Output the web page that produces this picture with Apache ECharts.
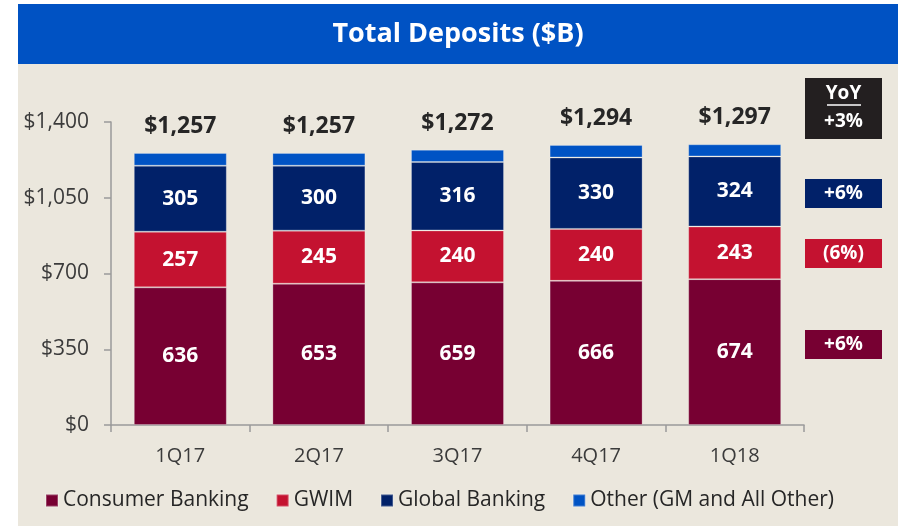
<!DOCTYPE html>
<html>
<head>
<meta charset="utf-8">
<script src="https://cdn.jsdelivr.net/npm/echarts@6/dist/echarts.min.js"></script>
<style>
html,body{margin:0;padding:0;background:#ffffff;}
#chart{width:898px;height:526px;}
</style>
</head>
<body>
<div id="chart"></div>
<script>
const categories = ['1Q17', '2Q17', '3Q17', '4Q17', '1Q18'];
const consumerBanking = [636, 653, 659, 666, 674];
const gwim = [257, 245, 240, 240, 243];
const globalBanking = [305, 300, 316, 330, 324];
const totals = [1257, 1257, 1272, 1294, 1297];
const other = totals.map((t, i) => t - consumerBanking[i] - gwim[i] - globalBanking[i]);
const yTicks = [0, 350, 700, 1050, 1400];
const yoyTitle = 'YoY';
const yoyTotal = '+3%';
const yoyGlobal = '+6%';
const yoyGwim = '(6%)';
const yoyConsumer = '+6%';

const FONT = '"Open Sans", sans-serif';
const C_CONS = '#770032';
const C_GWIM = '#c41230';
const C_GLOB = '#012169';
const C_OTH = '#0053c4';

const chart = echarts.init(document.getElementById('chart'));

function segLabel() {
  return {
    show: true, position: 'inside', color: '#ffffff',
    fontFamily: FONT, fontWeight: 'bold', fontSize: 21
  };
}
const border = { borderColor: 'rgba(255,255,255,0.25)', borderWidth: 1 };

function box(top, h, color, text) {
  return {
    type: 'group', left: 805, top: top,
    children: [
      { type: 'rect', shape: { x: 0, y: 0, width: 77, height: h }, style: { fill: color } },
      { type: 'text', x: 38.5, y: h / 2, style: { text: text, fill: '#ffffff', font: 'bold 19px ' + FONT, align: 'center', verticalAlign: 'middle' } }
    ]
  };
}

chart.setOption({
  backgroundColor: '#ffffff',
  animation: false,
  graphic: [
    { type: 'rect', left: 18, top: 64, z: -10, shape: { width: 880, height: 462 }, style: { fill: '#ebe7dd' } },
    { type: 'rect', left: 18, top: 4, z: -10, shape: { width: 880, height: 60 }, style: { fill: '#0052c3' } },
    { type: 'text', x: 458, y: 34, style: { text: 'Total Deposits ($B)', fill: '#ffffff', font: 'bold 27px ' + FONT, align: 'center', verticalAlign: 'middle' } },
    {
      type: 'group', left: 805, top: 78,
      children: [
        { type: 'rect', shape: { x: 0, y: 0, width: 77, height: 61 }, style: { fill: '#231f20' } },
        { type: 'text', x: 38.5, y: 16, style: { text: yoyTitle, fill: '#ffffff', font: 'bold 19px ' + FONT, align: 'center', verticalAlign: 'middle' } },
        { type: 'line', shape: { x1: 22, y1: 27, x2: 56, y2: 27 }, style: { stroke: '#ffffff', lineWidth: 1.5 } },
        { type: 'text', x: 38.5, y: 44, style: { text: yoyTotal, fill: '#ffffff', font: 'bold 19px ' + FONT, align: 'center', verticalAlign: 'middle' } }
      ]
    },
    box(179, 29, C_GLOB, yoyGlobal),
    box(239, 29, C_GWIM, yoyGwim),
    box(330, 29, C_CONS, yoyConsumer)
  ],
  grid: { left: 111, right: 94, top: 122, bottom: 101 },
  legend: {
    left: 45, top: 490, padding: 0,
    icon: 'rect', itemWidth: 12, itemHeight: 12, itemGap: 27,
    textStyle: { fontFamily: FONT, fontSize: 21, color: '#262626' },
    data: ['Consumer Banking', 'GWIM', 'Global Banking', 'Other (GM and All Other)']
  },
  xAxis: {
    type: 'category', data: categories,
    axisLine: { show: true, lineStyle: { color: '#9a9a9a', width: 1.5 } },
    axisTick: { show: true, length: 7, lineStyle: { color: '#9a9a9a', width: 1.5 } },
    axisLabel: { color: '#3b3b3b', fontFamily: FONT, fontSize: 20, margin: 21 }
  },
  yAxis: {
    type: 'value', min: 0, max: 1400, interval: 350,
    splitLine: { show: false },
    axisLine: { show: true, lineStyle: { color: '#9a9a9a', width: 1.5 } },
    axisTick: { show: true, length: 7, lineStyle: { color: '#9a9a9a', width: 1.5 } },
    axisLabel: {
      color: '#3b3b3b', fontFamily: FONT, fontSize: 21, margin: 22,
      formatter: v => yTicks.includes(v) ? '$' + v.toLocaleString('en-US') : ''
    }
  },
  series: [
    { name: 'Consumer Banking', type: 'bar', stack: 't', data: consumerBanking, barWidth: 93,
      itemStyle: Object.assign({ color: C_CONS }, border), label: segLabel() },
    { name: 'GWIM', type: 'bar', stack: 't', data: gwim,
      itemStyle: Object.assign({ color: C_GWIM }, border), label: segLabel() },
    { name: 'Global Banking', type: 'bar', stack: 't', data: globalBanking,
      itemStyle: Object.assign({ color: C_GLOB }, border), label: segLabel() },
    { name: 'Other (GM and All Other)', type: 'bar', stack: 't', data: other,
      itemStyle: Object.assign({ color: C_OTH }, border),
      label: {
        show: true, position: 'top', distance: 15, color: '#262626',
        fontFamily: FONT, fontWeight: 'bold', fontSize: 23,
        formatter: p => '$' + totals[p.dataIndex].toLocaleString('en-US')
      } }
  ]
});
</script>
</body>
</html>
